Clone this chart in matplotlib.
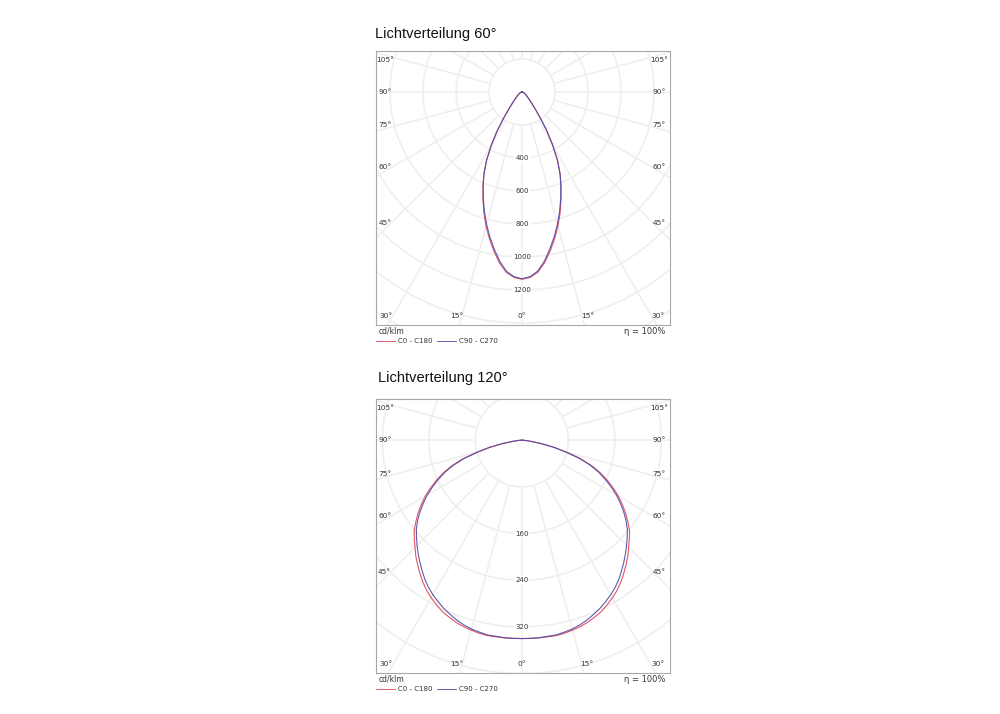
import numpy as np
import matplotlib
matplotlib.use('Agg')
import matplotlib.pyplot as plt
from matplotlib.lines import Line2D

# angles (gamma) in degrees, 0 = straight down
gamma = [0, 2.5, 5, 7.5, 10, 12.5, 15, 17.5, 20, 22.5, 25, 27.5, 30, 32.5, 35, 37.5,
         40, 42.5, 45, 47.5, 50, 52.5, 55, 57.5, 60, 62.5, 65, 67.5, 70, 72.5, 75,
         77.5, 80, 82.5, 85, 87.5, 90]

# Lichtverteilung 60 deg, cd/klm
i60_c0 = [1135, 1125, 1097, 1045, 980, 912, 842, 768, 692, 620, 547, 465, 372, 282, 196, 135,
          96, 72, 56, 45, 36, 30, 25, 21, 18, 15, 13, 11, 9, 7, 6, 5, 4, 3, 2, 1, 0]
i60_c90 = [1132, 1120, 1090, 1035, 968, 900, 830, 758, 686, 615, 544, 463, 370, 281, 195, 135,
           96, 72, 56, 45, 36, 30, 25, 21, 18, 15, 13, 11, 9, 7, 6, 5, 4, 3, 2, 1, 0]
rings60 = [200, 400, 600, 800, 1000, 1200, 1400, 1600, 1800]
labels60 = [400, 600, 800, 1000, 1200]

# Lichtverteilung 120 deg, cd/klm
i120_c0 = [340, 340, 340, 340, 340, 339, 337, 335, 332, 328, 324, 318, 312, 305, 297, 288,
           279, 270, 260, 251, 242, 230, 218, 205, 192, 177, 162, 146, 128, 106, 80, 57,
           34, 16, 6, 2, 0]
i120_c90 = [340, 340, 340, 339, 339, 337, 335, 332, 328, 323, 318, 312, 306, 299, 291, 282,
            273, 264, 255, 246, 237, 226, 214, 201, 188, 173, 158, 143, 125, 104, 78, 56,
            33, 15, 6, 2, 0]
rings120 = [80, 160, 240, 320, 400, 480, 560]
labels120 = [160, 240, 320]

edge_angles = [0, 15, 30, 45, 60, 75, 90, 105]

RED = '#e2404f'
BLUE = '#4a4aa8'
GRID = '#efefef'
TXT = '#333333'


def polar_panel(ax, c0, c90, rings, labels, xlim, ylim):
    g = np.radians(gamma)
    # grid circles
    t = np.linspace(0, 2 * np.pi, 400)
    for r in rings:
        ax.plot(r * np.cos(t), r * np.sin(t), color=GRID, lw=1.2, zorder=1)
    # radial lines every 15 deg, starting at the first ring
    for a in range(0, 360, 15):
        ar = np.radians(a)
        ax.plot([rings[0] * np.sin(ar), 3 * rings[-1] * np.sin(ar)],
                [-rings[0] * np.cos(ar), -3 * rings[-1] * np.cos(ar)],
                color=GRID, lw=1.2, zorder=1)
    # curves (C180 / C270 mirrored on the left)
    for vals, col in [(c0, RED), (c90, BLUE)]:
        v = np.array(vals, dtype=float)
        x = np.concatenate([-v[::-1] * np.sin(g[::-1]), v[1:] * np.sin(g[1:])])
        y = np.concatenate([-v[::-1] * np.cos(g[::-1]), -v[1:] * np.cos(g[1:])])
        ax.plot(x, y, color=col, lw=0.8, zorder=3, alpha=0.9)
    # intensity labels on the 0 deg axis
    for r in labels:
        ax.text(0, -r, str(r), ha='center', va='center', fontsize=5, color=TXT,
                zorder=4, bbox=dict(facecolor='white', edgecolor='none', pad=0.6))
    ax.set_xlim(*xlim)
    ax.set_ylim(*ylim)
    # angle labels just inside the frame, a little off their ray
    sx = (xlim[1] - xlim[0]) / 294.0
    x1, y0 = xlim[1] - 11 * sx, ylim[0] + 8.5 * sx
    for a in edge_angles:
        d = 0 if a in (0, 90) else (-1.7 if a > 90 else 1.3)
        ar = np.radians(a + d)
        dx, dy = np.sin(ar), -np.cos(ar)
        ts = []
        if dx > 1e-9:
            ts.append(x1 / dx)
        if dy < -1e-9:
            ts.append(y0 / dy)
        tt = min(ts)
        for s in ([1, -1] if a > 0 else [1]):
            ax.text(s * tt * dx, tt * dy, '%d°' % a, ha='center', va='center',
                    fontsize=5.3, color=TXT, zorder=4)
    ax.set_xticks([])
    ax.set_yticks([])
    for sp in ax.spines.values():
        sp.set_color('#a8a8a8')
        sp.set_linewidth(0.8)


def footer(fig, ytop):
    # ytop = pixel row of the "cd/klm" line
    fy = lambda y: 1 - y / 714.0
    fig.text(0.379, fy(ytop), 'cd/klm', fontsize=5.5, color=TXT, va='center', ha='left')
    fig.text(0.665, fy(ytop + 1), 'η = 100%', fontsize=6, color=TXT, va='center', ha='right')
    yl = fy(ytop + 10)
    fig.add_artist(Line2D([0.376, 0.395], [yl, yl], color=RED, lw=0.6, transform=fig.transFigure))
    fig.text(0.398, yl, 'C0 - C180', fontsize=5, color=TXT, va='center', ha='left')
    fig.add_artist(Line2D([0.437, 0.456], [yl, yl], color=BLUE, lw=0.6, transform=fig.transFigure))
    fig.text(0.459, yl, 'C90 - C270', fontsize=5, color=TXT, va='center', ha='left')


fig = plt.figure(figsize=(10, 7.14), dpi=100)

ax1 = fig.add_axes([0.376, 1 - 325 / 714.0, 0.294, 274 / 714.0])
polar_panel(ax1, i60_c0, i60_c90, rings60, labels60, (-885, 897), (-1412, 248))
fig.text(0.375, 1 - 34 / 714.0, 'Lichtverteilung 60°', fontsize=10.5, family='Liberation Sans',
         va='center', ha='left', color='#111111')
footer(fig, 331)

ax2 = fig.add_axes([0.376, 1 - 673 / 714.0, 0.294, 274 / 714.0])
polar_panel(ax2, i120_c0, i120_c90, rings120, labels120, (-251, 255), (-399, 70.5))
fig.text(0.378, 1 - 378 / 714.0, 'Lichtverteilung 120°', fontsize=10.5, family='Liberation Sans',
         va='center', ha='left', color='#111111')
footer(fig, 679)

fig.savefig('out.png', dpi=100)
